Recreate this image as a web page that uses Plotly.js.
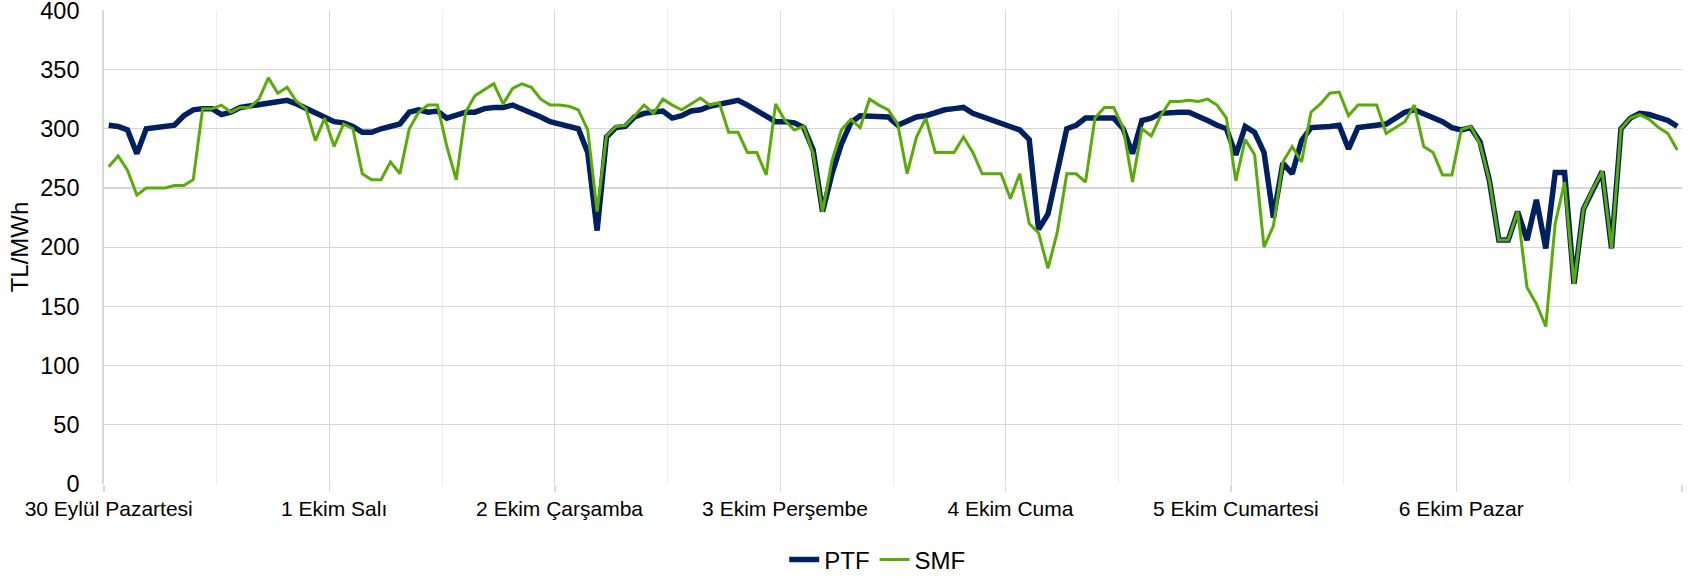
<!DOCTYPE html>
<html>
<head>
<meta charset="utf-8">
<script src="https://cdn.plot.ly/plotly-3.0.1.min.js"></script>
<style>html,body{margin:0;padding:0;background:#fff;}#chart{width:1691px;height:577px;}</style>
</head>
<body>
<div id="chart"></div>
<script>
// Day labels (one per 24 hourly points)
const dayLabels = ["30 Eylül Pazartesi", "1 Ekim Salı", "2 Ekim Çarşamba", "3 Ekim Perşembe", "4 Ekim Cuma", "5 Ekim Cumartesi", "6 Ekim Pazar"];
const hoursPerDay = 24;
const yTicks = [0, 50, 100, 150, 200, 250, 300, 350, 400];

// PTF hourly values (TL/MWh)
const ptf = [
  303, 302, 299, 279, 300, 301, 301, 303, 311, 316, 317, 317, 312, 314, 318, 319, 321, 322, 322, 324, 321, 317, 314, 310,
  306, 305, 302, 297, 297, 300, 302, 304, 314, 316, 314, 315, 309, 311, 314, 314, 317, 318, 318, 320, 317, 313, 310, 306,
  304, 303, 300, 280, 214, 293, 301, 302, 310, 313, 314, 315, 309, 311, 315, 316, 319, 321, 322, 324, 320, 315, 310, 306,
  306, 305, 301, 282, 230, 262, 287, 305, 311, 311, 311, 310, 303, 306, 310, 311, 314, 316, 317, 318, 313, 310, 307, 304,
  301, 299, 291, 215, 228, 265, 300, 303, 309, 309, 309, 309, 300, 279, 307, 309, 313, 314, 314, 314, 311, 307, 303, 300,
  278, 302, 297, 280, 225, 271, 262, 290, 301, 301, 302, 303, 283, 301, 302, 302, 304, 309, 314, 316, 313, 309, 306, 301,
  299, 301, 289, 256, 206, 206, 230, 206, 240, 199, 263, 263, 169, 232, 249, 264, 199, 300, 309, 313, 312, 309, 307, 302
];

// SMF hourly values (TL/MWh)
const smf = [
  268, 277, 265, 244, 250, 250, 250, 252, 252, 257, 317, 317, 320, 314, 318, 318, 325, 343, 330, 335, 323, 317, 290, 309,
  285, 304, 300, 262, 257, 257, 272, 262, 300, 314, 320, 320, 285, 257, 314, 328, 333, 338, 321, 334, 338, 335, 325, 320,
  320, 319, 316, 299, 230, 294, 302, 303, 311, 320, 313, 325, 320, 316, 321, 326, 320, 322, 297, 297, 280, 280, 261, 321,
  307, 299, 302, 279, 230, 273, 299, 308, 301, 325, 320, 316, 304, 262, 293, 309, 280, 280, 280, 293, 280, 262, 262, 262,
  241, 262, 220, 212, 182, 213, 262, 262, 255, 309, 318, 318, 301, 255, 300, 294, 311, 323, 323, 324, 323, 325, 320, 309,
  256, 291, 278, 200, 218, 272, 285, 272, 314, 321, 330, 331, 311, 320, 320, 320, 296, 301, 306, 320, 285, 280, 261, 261,
  299, 302, 287, 256, 206, 206, 230, 166, 152, 133, 220, 255, 169, 232, 249, 264, 199, 300, 309, 312, 308, 301, 296, 282
];

const hours = ptf.map((_, i) => i);
const nDays = dayLabels.length;
const labelPos = dayLabels.map((_, d) => d * hoursPerDay);
const dayBounds = Array.from({length: nDays + 1}, (_, d) => d * hoursPerDay - 0.5);
const halfDays = Array.from({length: nDays}, (_, d) => d * hoursPerDay + hoursPerDay / 2 - 0.5);
const xr = [-0.5, hours.length - 0.5];

const FONT = 'Liberation Sans, Arial, Helvetica, sans-serif';

const traces = [
  {x: [], y: [], xaxis: 'x2', yaxis: 'y', showlegend: false, hoverinfo: 'skip', type: 'scatter', mode: 'lines'},
  {x: hours, y: ptf, name: 'PTF', type: 'scatter', mode: 'lines',
   line: {color: '#002060', width: 5.5}},
  {x: hours, y: smf, name: 'SMF', type: 'scatter', mode: 'lines',
   line: {color: '#5AAB0A', width: 3}}
];

const layout = {
  width: 1691, height: 577,
  margin: {l: 104, r: 9, t: 10, b: 93, autoexpand: false},
  paper_bgcolor: '#ffffff', plot_bgcolor: '#ffffff',
  font: {family: FONT, color: '#000000'},
  showlegend: true,
  legend: {orientation: 'h', x: 0.49, xanchor: 'center', y: -0.16, yanchor: 'middle',
           font: {size: 24, family: FONT, color: '#000'}, itemgap: 24},
  xaxis: {
    range: xr, tickmode: 'array', tickvals: labelPos, ticktext: dayLabels,
    showgrid: false, zeroline: false, showline: false, ticks: '',
    tickfont: {size: 21, family: FONT, color: '#000'}, ticklabelstandoff: 10
  },
  xaxis2: {
    overlaying: 'x', anchor: 'y', range: xr, tickmode: 'array', tickvals: dayBounds,
    showticklabels: false, showgrid: true, gridcolor: '#d9d9d9', gridwidth: 1,
    ticks: 'outside', ticklen: 7, tickcolor: '#d9d9d9', tickwidth: 1.3,
    zeroline: false, showline: false,
    minor: {tickmode: 'array', tickvals: halfDays, showgrid: true, gridcolor: '#ececec', gridwidth: 1, ticks: ''}
  },
  yaxis: {
    range: [0, 400.3], tickmode: 'array', tickvals: yTicks, ticktext: yTicks.map(String),
    showgrid: true, gridcolor: '#d6d6d6', gridwidth: 1.3,
    zeroline: false, showline: true, linecolor: '#d9d9d9', linewidth: 1.8,
    ticklabeloverflow: 'allow',
    tickfont: {size: 23.5, family: FONT, color: '#000'}, ticklabelstandoff: 18,
    title: {text: 'TL/MWh', font: {size: 24, family: FONT, color: '#000'}, standoff: 5}
  }
};

Plotly.newPlot('chart', traces, layout, {displayModeBar: false, staticPlot: true});
</script>
</body>
</html>
